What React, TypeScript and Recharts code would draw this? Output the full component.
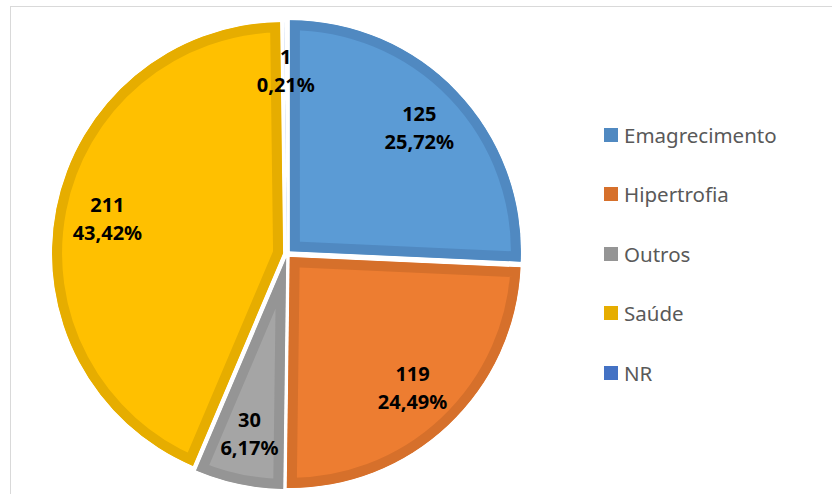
import React from 'react';
import { PieChart, Pie, Cell, Sector, Legend } from 'recharts';

const categories = ['Emagrecimento', 'Hipertrofia', 'Outros', 'Saúde', 'NR'];
const values = [125, 119, 30, 211, 1];
const fills = ['#5B9BD5', '#ED7D31', '#A5A5A5', '#FFC000', '#4472C4'];
const strokes = ['#5089C1', '#D6702B', '#959595', '#E6AD00', '#FFFFFF'];
const strokeWidths = [20, 20, 20, 20, 8];
const legendColors = ['#5089C1', '#D6702B', '#959595', '#E6AD00', '#4472C4'];

const data = categories.map((name, i) => ({ name, value: values[i] }));
const total = values.reduce((a, b) => a + b, 0);

const EXPLODE = 4;
const FONT = '"Noto Sans", "Liberation Sans", sans-serif';
const RAD = Math.PI / 180;

const renderShape = (props: any) => {
  const { cx, cy, midAngle, innerRadius, outerRadius, startAngle, endAngle, fill, stroke, strokeWidth } = props;
  const dx = EXPLODE * Math.cos(-midAngle * RAD);
  const dy = EXPLODE * Math.sin(-midAngle * RAD);
  const id = `clip-sector-${Math.round(startAngle * 100)}-${Math.round(endAngle * 100)}`.replace(/\./g, '_');
  const common = {
    cx: cx + dx,
    cy: cy + dy,
    innerRadius,
    outerRadius,
    startAngle,
    endAngle,
  };
  return (
    <g>
      <defs>
        <clipPath id={id}>
          <Sector {...common} />
        </clipPath>
      </defs>
      <Sector {...common} fill={fill} stroke={stroke} strokeWidth={strokeWidth} clipPath={`url(#${id})`} />
    </g>
  );
};

const renderLabel = (props: any) => {
  const { cx, cy, midAngle, outerRadius, value } = props;
  const r = outerRadius * 0.775 + EXPLODE;
  const x = cx + r * Math.cos(-midAngle * RAD);
  const y = cy + r * Math.sin(-midAngle * RAD);
  const pct = ((value / total) * 100).toFixed(2).replace('.', ',') + '%';
  return (
    <text
      x={x}
      y={y}
      textAnchor="middle"
      fill="#000"
      fontFamily={FONT}
      fontWeight="bold"
      fontSize={20}
    >
      <tspan x={x} y={y - 14} dominantBaseline="central">{value}</tspan>
      <tspan x={x} y={y + 14} dominantBaseline="central">{pct}</tspan>
    </text>
  );
};

const renderLegend = () => (
  <div style={{ fontFamily: FONT, fontSize: 20.5, color: '#595959' }}>
    {categories.map((c, i) => (
      <div key={c} style={{ display: 'flex', alignItems: 'center', height: 59.5 }}>
        <span style={{ display: 'inline-block', width: 14, height: 14, background: legendColors[i], marginRight: 6 }} />
        <span>{c}</span>
      </div>
    ))}
  </div>
);

export default function App() {
  return (
    <div style={{ position: 'absolute', left: 0, top: 0, width: 832, height: 494, overflow: 'hidden', background: '#fff' }}>
      <div style={{ position: 'absolute', left: 10, top: 6, width: 900, height: 600, border: '1.5px solid #d9d9d9' }} />
      <div style={{ position: 'absolute', left: 0, top: 0 }}>
        <PieChart width={832} height={494} margin={{ top: 0, right: 0, bottom: 0, left: 0 }}>
          <Pie
            data={data}
            dataKey="value"
            nameKey="name"
            cx={287}
            cy={254}
            innerRadius={0}
            outerRadius={231}
            startAngle={90}
            endAngle={-270}
            isAnimationActive={false}
            labelLine={false}
            label={renderLabel}
            shape={renderShape}
            activeShape={renderShape}
            inactiveShape={renderShape}
          >
            {data.map((d, i) => (
              <Cell key={d.name} fill={fills[i]} stroke={strokes[i]} strokeWidth={strokeWidths[i]} />
            ))}
          </Pie>
          <Legend
            layout="vertical"
            align="right"
            verticalAlign="top"
            content={renderLegend}
            wrapperStyle={{ left: 604, top: 105, width: 220 }}
          />
        </PieChart>
      </div>
    </div>
  );
}
